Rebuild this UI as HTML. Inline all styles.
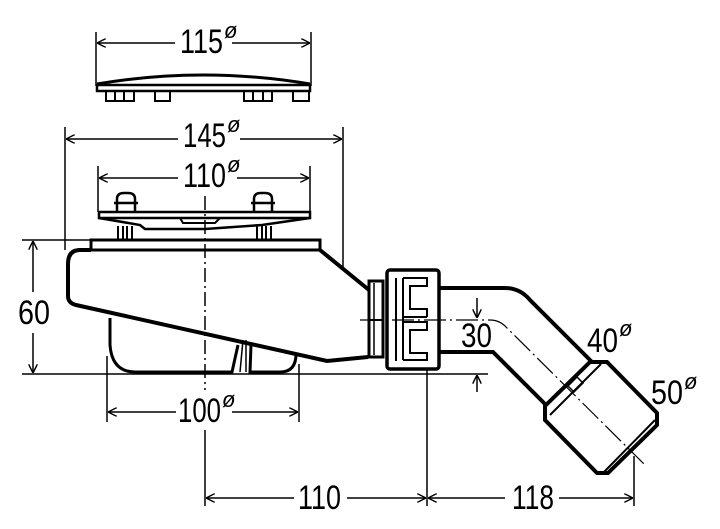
<!DOCTYPE html>
<html><head><meta charset="utf-8"><style>
html,body{margin:0;padding:0;background:#fff}
svg{display:block}
text{font-family:"Liberation Sans",sans-serif;fill:#000}
.n{font-size:34px}
.d{font-size:22px;font-style:italic}
</style></head><body>
<svg width="720" height="529" viewBox="0 0 720 529" xmlns="http://www.w3.org/2000/svg">
<defs>
<marker id="a" viewBox="0 0 10 10" refX="10" refY="5" markerWidth="9" markerHeight="9" orient="auto-start-reverse" markerUnits="userSpaceOnUse"><path d="M0,0 L10,5 L0,10" fill="none" stroke="#000" stroke-width="1.6"/></marker>
</defs>
<g stroke="#000" fill="none" stroke-width="1.5">
<line x1="96" y1="32" x2="96" y2="86"/><line x1="311" y1="32" x2="311" y2="86"/>
<line x1="97" y1="43" x2="175" y2="43" marker-start="url(#a)"/><line x1="232" y1="43" x2="310" y2="43" marker-end="url(#a)"/>
<path d="M97,84 Q203,66 310,84" stroke-width="3"/>
<rect x="97" y="85" width="213" height="6" stroke-width="2.5"/>
<path d="M106,91v10h28v-10M115,91v10M124,91v10M155,91v10h15v-10M244,91v10h28v-10M253,91v10M263,91v10M293,91v10h16v-10" stroke-width="2"/>
<line x1="65" y1="127" x2="65" y2="250"/><line x1="343" y1="127" x2="343" y2="268"/>
<line x1="66" y1="139" x2="178" y2="139" marker-start="url(#a)"/><line x1="240" y1="139" x2="342" y2="139" marker-end="url(#a)"/>
<line x1="98" y1="166" x2="98" y2="212"/><line x1="310" y1="166" x2="310" y2="212"/>
<line x1="99" y1="178" x2="178" y2="178" marker-start="url(#a)"/><line x1="237" y1="178" x2="309" y2="178" marker-end="url(#a)"/>
<rect x="99" y="212" width="211" height="6" stroke-width="2.5"/>
<path d="M99,218 L140,225 L145,229 L205,229 L262,225 L310,218" stroke-width="2.5"/>
<path d="M180,218 L183,223 L215,223 L220,218" stroke-width="2"/>
<path d="M117,211 v-12 q0,-6 7,-6 h4 q7,0 7,6 v12 M114,203 h24" stroke-width="2.5"/>
<path d="M254,211 v-12 q0,-6 7,-6 h4 q7,0 7,6 v12 M251,203 h24" stroke-width="2.5"/>
<path d="M118,226 v14 h14 v-14 M123,226 v14 M127,226 v14" stroke-width="2"/>
<path d="M257,226 v14 h14 v-14 M262,226 v14 M266,226 v14" stroke-width="2"/>
<rect x="91" y="240" width="229" height="10" stroke-width="3"/>
<path d="M91,250 L80,250 Q68,250 68,264 L68,296 Q68,303 76,305 L327,361 L368,357 M320,250 L369,290" stroke-width="4"/>
<path d="M110,318 L110,345 Q112,372 135,372 L232,372 L238,345 M251,345 L250,372 L280,372 Q296,372 296,354" stroke-width="3"/>
<path d="M243,340 L240,372 M246,340 L246,372" stroke-width="1.5"/>
<rect x="369" y="281" width="14" height="76" stroke-width="3"/>
<path d="M374,283 v72" stroke-width="1.5"/>
<path d="M368,320 h16" stroke-width="2"/>
<rect x="387" y="270" width="52" height="99" rx="3" stroke-width="3.5"/>
<path d="M396,278 v83 M403,278 v82 M403,278 h24 v8 h-17 v23 h17 v8 M427,317 h-24 M403,322 h24 v8 h-17 v23 h17 v7 h-24" stroke-width="2"/>
<path d="M440,288 L505,288 Q520,288 530,300 L592,362" stroke-width="4"/>
<path d="M440,352 L493,352 L546,405" stroke-width="4"/>
<path d="M590,362 L607,362 L657,413 L657,425 L608,473 L597,473 L545,420 L545,406 Z" stroke-width="4"/>
<path d="M601,364 L550,415 M655,420 L604,472" stroke-width="2"/>
<path d="M568,386 L577,377 L583,383 L574,392 Z" stroke-width="1.5"/>
<path d="M205,196 L205,390" stroke-dasharray="14,4,2,4" stroke-width="1.5"/>
<path d="M360,320 L490,320 Q500,320 507,328 L645,465" stroke-dasharray="22,4,2,4" stroke-width="1.2"/>
<line x1="22" y1="240" x2="90" y2="240"/><line x1="22" y1="374" x2="488" y2="374"/>
<line x1="33" y1="241" x2="33" y2="292" marker-start="url(#a)"/><line x1="33" y1="333" x2="33" y2="373" marker-end="url(#a)"/>
<line x1="477" y1="298" x2="477" y2="318" marker-end="url(#a)"/>
<line x1="477" y1="392" x2="477" y2="375" marker-end="url(#a)"/>
<line x1="107" y1="356" x2="107" y2="422"/><line x1="299" y1="364" x2="299" y2="422"/>
<line x1="108" y1="412" x2="176" y2="412" marker-start="url(#a)"/><line x1="232" y1="412" x2="298" y2="412" marker-end="url(#a)"/>
<line x1="205" y1="430" x2="205" y2="506"/><line x1="427" y1="370" x2="427" y2="506"/><line x1="634" y1="456" x2="634" y2="506"/>
<line x1="206" y1="498" x2="294" y2="498" marker-start="url(#a)"/><line x1="347" y1="498" x2="426" y2="498" marker-end="url(#a)"/>
<line x1="428" y1="498" x2="505" y2="498" marker-start="url(#a)"/><line x1="559" y1="498" x2="633" y2="498" marker-end="url(#a)"/>
</g>
<text class="n" x="180" y="53" textLength="43" lengthAdjust="spacingAndGlyphs">115</text><text class="d" x="224" y="38">ø</text>
<text class="n" x="183" y="147" textLength="43" lengthAdjust="spacingAndGlyphs">145</text><text class="d" x="227" y="132">ø</text>
<text class="n" x="183" y="187" textLength="43" lengthAdjust="spacingAndGlyphs">110</text><text class="d" x="227" y="172">ø</text>
<text class="n" x="18" y="324" textLength="32" lengthAdjust="spacingAndGlyphs">60</text>
<text class="n" x="461" y="347" textLength="31" lengthAdjust="spacingAndGlyphs">30</text>
<text class="n" x="178" y="422" textLength="43" lengthAdjust="spacingAndGlyphs">100</text><text class="d" x="222" y="407">ø</text>
<text class="n" x="587" y="352" textLength="31" lengthAdjust="spacingAndGlyphs">40</text><text class="d" x="619" y="336">ø</text>
<text class="n" x="651" y="404" textLength="32" lengthAdjust="spacingAndGlyphs">50</text><text class="d" x="684" y="389">ø</text>
<text class="n" x="298" y="509" textLength="43" lengthAdjust="spacingAndGlyphs">110</text>
<text class="n" x="512" y="509" textLength="42" lengthAdjust="spacingAndGlyphs">118</text>
</svg>
</body></html>
